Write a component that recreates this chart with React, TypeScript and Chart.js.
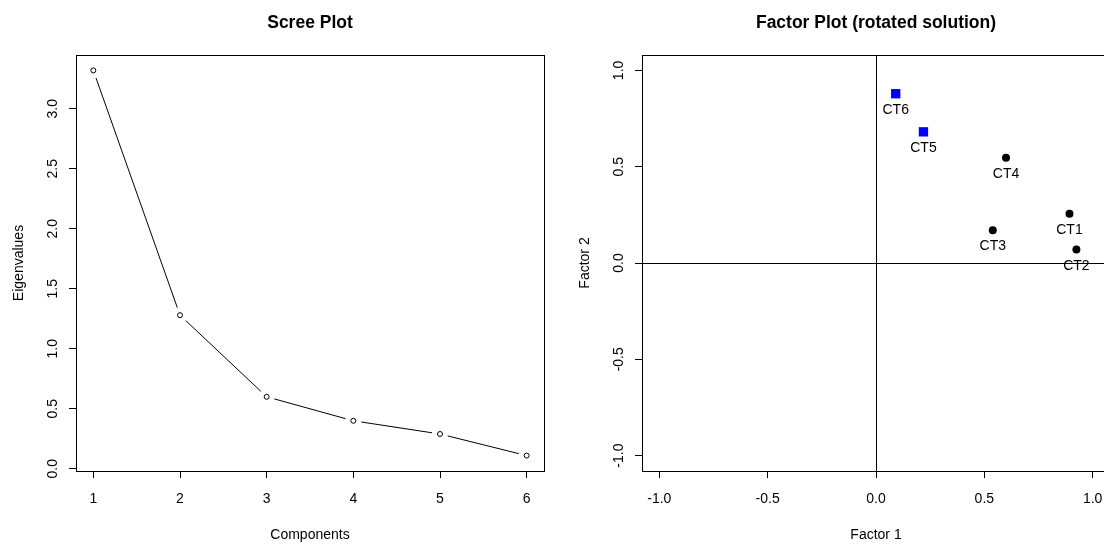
import React, { useEffect, useRef } from "react";
import { Chart, registerables } from "chart.js";

Chart.register(...registerables);

// ---------- Scree plot data ----------
const components = [1, 2, 3, 4, 5, 6];
const eigenvalues = [3.32, 1.28, 0.6, 0.4, 0.29, 0.11];
const screeXTicks = [1, 2, 3, 4, 5, 6];
const screeXTickLabels = ["1", "2", "3", "4", "5", "6"];
const screeYTicks = [0, 0.5, 1, 1.5, 2, 2.5, 3];
const screeYTickLabels = ["0.0", "0.5", "1.0", "1.5", "2.0", "2.5", "3.0"];

// ---------- Factor plot data ----------
const variables = ["CT1", "CT2", "CT3", "CT4", "CT5", "CT6"];
const factor1 = [0.893, 0.925, 0.539, 0.6, 0.219, 0.091];
const factor2 = [0.256, 0.07, 0.17, 0.547, 0.681, 0.879];
const groups = [1, 1, 1, 1, 2, 2];
const factorTicks = [-1, -0.5, 0, 0.5, 1];
const factorTickLabels = ["-1.0", "-0.5", "0.0", "0.5", "1.0"];
const factorLimits = [-1, 1];

const FONT = "'Liberation Sans', Arial, Helvetica, sans-serif";
const BOTTOM_SPACE = 73;

// R-style range extension (4%)
function extend(min: number, max: number) {
  const d = (max - min) * 0.04;
  return [min - d, max + d];
}

function labelFor(values: number[], labels: string[]) {
  return (v: any) => {
    const i = values.findIndex((x) => Math.abs(x - Number(v)) < 1e-9);
    return i >= 0 ? labels[i] : "";
  };
}

function makeScale(range: number[], ticks: number[], labels: string[], isX: boolean) {
  return {
    type: "linear",
    position: isX ? "bottom" : "left",
    min: range[0],
    max: range[1],
    bounds: "data",
    afterBuildTicks: (scale: any) => {
      scale.ticks = ticks.map((v) => ({ value: v }));
    },
    afterFit: (scale: any) => {
      if (isX) scale.height = BOTTOM_SPACE;
      else scale.width = 0;
    },
    grid: {
      display: true,
      drawOnChartArea: false,
      drawTicks: true,
      tickLength: 7,
      tickWidth: 1,
      tickColor: "#000",
      color: "#000",
    },
    border: { display: false },
    ticks: {
      autoSkip: false,
      maxRotation: 0,
      minRotation: 0,
      padding: 13,
      color: isX ? "#000" : "rgba(0,0,0,0)",
      font: { family: FONT, size: 14 },
      callback: labelFor(ticks, labels),
    },
  };
}

type Deco = {
  title: string;
  xTitle: string;
  yTitle: string;
  zeroLines?: boolean;
  gapLine?: boolean;
};

function makePlugin(deco: Deco) {
  return {
    id: "rdeco",
    beforeDatasetsDraw(chart: any) {
      const ctx = chart.ctx;
      const a = chart.chartArea;
      ctx.save();
      ctx.strokeStyle = "#000";
      ctx.lineWidth = 1;
      if (deco.zeroLines) {
        const x0 = Math.round(chart.scales.x.getPixelForValue(0)) + 0.5;
        const y0 = Math.round(chart.scales.y.getPixelForValue(0)) + 0.5;
        ctx.beginPath();
        ctx.moveTo(x0, a.top);
        ctx.lineTo(x0, a.bottom);
        ctx.moveTo(a.left, y0);
        ctx.lineTo(a.right, y0);
        ctx.stroke();
      }
      if (deco.gapLine) {
        const pts = chart.getDatasetMeta(0).data;
        const g = 8;
        ctx.beginPath();
        for (let i = 0; i < pts.length - 1; i++) {
          const p = pts[i];
          const q = pts[i + 1];
          const dx = q.x - p.x;
          const dy = q.y - p.y;
          const len = Math.hypot(dx, dy);
          if (len <= 2 * g) continue;
          const ux = dx / len;
          const uy = dy / len;
          ctx.moveTo(p.x + ux * g, p.y + uy * g);
          ctx.lineTo(q.x - ux * g, q.y - uy * g);
        }
        ctx.stroke();
      }
      ctx.restore();
    },
    afterDraw(chart: any) {
      const ctx = chart.ctx;
      const a = chart.chartArea;
      ctx.save();
      // box
      ctx.strokeStyle = "#000";
      ctx.lineWidth = 1;
      ctx.strokeRect(
        Math.round(a.left) + 0.5,
        Math.round(a.top) + 0.5,
        Math.round(a.right - a.left),
        Math.round(a.bottom - a.top)
      );
      ctx.fillStyle = "#000";
      const cx = (a.left + a.right) / 2;
      const cy = (a.top + a.bottom) / 2;
      // title
      ctx.font = `bold 17.5px ${FONT}`;
      ctx.textAlign = "center";
      ctx.textBaseline = "alphabetic";
      ctx.fillText(deco.title, cx, 27.5);
      // x axis title
      ctx.font = `14px ${FONT}`;
      ctx.fillText(deco.xTitle, cx, 538.5);
      // y axis title (rotated)
      ctx.save();
      ctx.translate(a.left - 53.5, cy);
      ctx.rotate(-Math.PI / 2);
      ctx.fillText(deco.yTitle, 0, 0);
      ctx.restore();
      // y tick labels (rotated, parallel to axis)
      const ys = chart.scales.y;
      ys.ticks.forEach((t: any) => {
        const py = ys.getPixelForValue(t.value);
        ctx.save();
        ctx.translate(a.left - 19, py);
        ctx.rotate(-Math.PI / 2);
        ctx.fillText(String(t.label), 0, 0);
        ctx.restore();
      });
      // point labels
      chart.data.datasets.forEach((ds: any, di: number) => {
        if (!ds.pointLabels) return;
        const meta = chart.getDatasetMeta(di);
        meta.data.forEach((el: any, i: number) => {
          ctx.fillText(ds.pointLabels[i], el.x, el.y + 20);
        });
      });
      ctx.restore();
    },
  };
}

function baseOptions(padLeft: number, padRight: number, scales: any) {
  return {
    responsive: false,
    maintainAspectRatio: false,
    animation: false,
    devicePixelRatio: 1,
    layout: {
      autoPadding: false,
      padding: { left: padLeft, right: padRight, top: 55, bottom: 0 },
    },
    plugins: {
      legend: { display: false },
      tooltip: { enabled: false },
      title: { display: false },
    },
    events: [],
    scales,
  };
}

export default function App() {
  const leftRef = useRef<HTMLCanvasElement>(null);
  const rightRef = useRef<HTMLCanvasElement>(null);

  useEffect(() => {
    const screeDeco: Deco = {
      title: "Scree Plot",
      xTitle: "Components",
      yTitle: "Eigenvalues",
      gapLine: true,
    };
    const xr = extend(Math.min(...components), Math.max(...components));
    const yr = extend(Math.min(...eigenvalues), Math.max(...eigenvalues));
    const scree = new Chart(leftRef.current as HTMLCanvasElement, {
      type: "scatter",
      data: {
        datasets: [
          {
            data: components.map((c, i) => ({ x: c, y: eigenvalues[i] })),
            showLine: false,
            pointRadius: 2.5,
            pointBorderWidth: 1,
            pointBorderColor: "#000",
            pointBackgroundColor: "rgba(255,255,255,0)",
          },
        ],
      },
      options: baseOptions(76, 16, {
        x: makeScale(xr, screeXTicks, screeXTickLabels, true),
        y: makeScale(yr, screeYTicks, screeYTickLabels, false),
      }) as any,
      plugins: [makePlugin(screeDeco)],
    });

    const factorDeco: Deco = {
      title: "Factor Plot (rotated solution)",
      xTitle: "Factor 1",
      yTitle: "Factor 2",
      zeroLines: true,
    };
    const fr = extend(factorLimits[0], factorLimits[1]);
    const idx1 = groups.map((g, i) => (g === 1 ? i : -1)).filter((i) => i >= 0);
    const idx2 = groups.map((g, i) => (g === 2 ? i : -1)).filter((i) => i >= 0);
    const factor = new Chart(rightRef.current as HTMLCanvasElement, {
      type: "scatter",
      data: {
        datasets: [
          {
            data: idx1.map((i) => ({ x: factor1[i], y: factor2[i] })),
            pointLabels: idx1.map((i) => variables[i]),
            pointStyle: "circle",
            pointRadius: 4,
            pointBorderWidth: 0,
            pointBackgroundColor: "#000",
            pointBorderColor: "#000",
          } as any,
          {
            data: idx2.map((i) => ({ x: factor1[i], y: factor2[i] })),
            pointLabels: idx2.map((i) => variables[i]),
            pointStyle: "rect",
            pointRadius: 6.6,
            pointBorderWidth: 0,
            pointBackgroundColor: "#0000ff",
            pointBorderColor: "#0000ff",
          } as any,
        ],
      },
      options: baseOptions(82, 10, {
        x: makeScale(fr, factorTicks, factorTickLabels, true),
        y: makeScale(fr, factorTicks, factorTickLabels, false),
      }) as any,
      plugins: [makePlugin(factorDeco)],
    });

    return () => {
      scree.destroy();
      factor.destroy();
    };
  }, []);

  return (
    <div
      style={{
        position: "fixed",
        left: 0,
        top: 0,
        width: 1104,
        height: 544,
        overflow: "hidden",
        background: "#fff",
      }}
    >
      <canvas
        ref={leftRef}
        width={560}
        height={544}
        style={{ position: "absolute", left: 0, top: 0 }}
      />
      <canvas
        ref={rightRef}
        width={560}
        height={544}
        style={{ position: "absolute", left: 560, top: 0 }}
      />
    </div>
  );
}
